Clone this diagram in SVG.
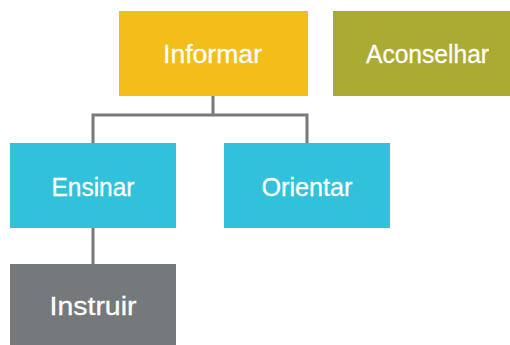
<svg xmlns="http://www.w3.org/2000/svg" width="510" height="345" viewBox="0 0 510 345">
<style>
.lbl{font-family:"Liberation Sans",Arial,sans-serif;font-size:26px;fill:#ffffff;text-anchor:middle;stroke:#ffffff;stroke-width:0.3}
.conn{stroke:#77797c;stroke-width:3;fill:none}
</style>
<rect width="510" height="345" fill="#ffffff"/>
<g id="connectors">
<path class="conn" d="M213 96V115M93 115H307M93 113.5V143M307 113.5V143M93 228V264"/>
</g>
<g id="informar"><rect x="119" y="11" width="189" height="85" fill="#f3bd1a"/><text class="lbl" x="212.5" y="63" textLength="99" lengthAdjust="spacingAndGlyphs">Informar</text></g>
<g id="aconselhar"><rect x="333" y="11" width="189" height="85" fill="#abaa33"/><text class="lbl" x="427.5" y="63" textLength="123" lengthAdjust="spacingAndGlyphs">Aconselhar</text></g>
<g id="ensinar"><rect x="10" y="143" width="166" height="85" fill="#32c1db"/><text class="lbl" x="93" y="196" textLength="83" lengthAdjust="spacingAndGlyphs">Ensinar</text></g>
<g id="orientar"><rect x="224" y="143" width="166" height="85" fill="#32c1db"/><text class="lbl" x="307" y="196" textLength="91" lengthAdjust="spacingAndGlyphs">Orientar</text></g>
<g id="instruir"><rect x="10" y="264" width="166" height="85" fill="#76797c"/><text class="lbl" x="93" y="315" textLength="87" lengthAdjust="spacingAndGlyphs">Instruir</text></g>
</svg>
